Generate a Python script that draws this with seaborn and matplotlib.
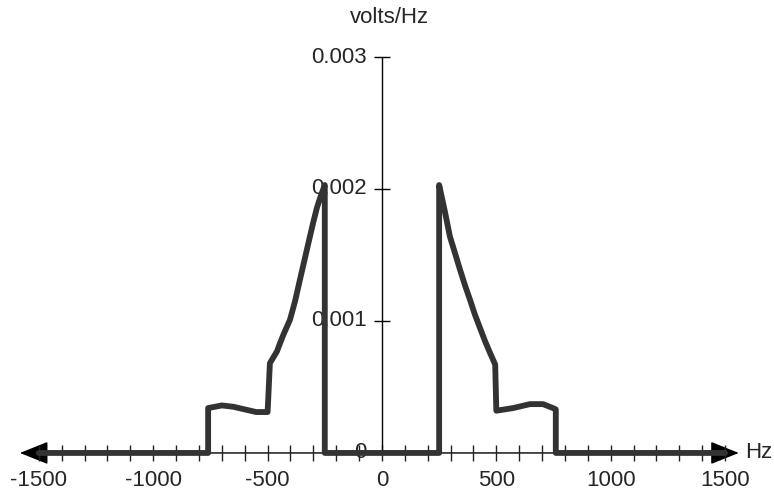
import matplotlib
matplotlib.use("Agg")
import matplotlib.pyplot as plt
import seaborn as sns
import pandas as pd

# ---- data ----
freq_hz = [-1500, -760, -760, -700, -650, -600, -550, -500, -490, -459, -446, -430,
           -402, -380, -359, -335, -315, -300, -284, -267, -250, -250,
           250, 250, 275, 297, 320, 341, 363, 385, 406, 428, 450, 472, 495,
           500, 573, 647, 704, 748, 760, 760, 1500]
volts_per_hz = [0, 0, 0.00034, 0.00036, 0.00035, 0.00033, 0.00031, 0.00031, 0.00068,
                0.00077, 0.00083, 0.00090, 0.00101, 0.00115, 0.00131, 0.00149,
                0.00164, 0.00175, 0.00186, 0.00195, 0.00203, 0,
                0, 0.00203, 0.00183, 0.00164, 0.00151, 0.00139, 0.00127, 0.00116,
                0.00105, 0.00095, 0.00085, 0.00076, 0.00067,
                0.00032, 0.00034, 0.00037, 0.00037, 0.00034, 0.00033, 0, 0]
x_tick_values = [-1500, -1000, -500, 0, 500, 1000, 1500]
x_tick_labels = ["-1500", "-1000", "-500", "0", "500", "1000", "1500"]
y_tick_values = [0, 0.001, 0.002, 0.003]
y_tick_labels = ["0", "0.001", "0.002", "0.003"]
x_minor_ticks = list(range(-1500, 1501, 100))
y_axis_title = "volts/Hz"
x_axis_title = "Hz"

df = pd.DataFrame({"order": range(len(freq_hz)), "freq": freq_hz, "v": volts_per_hz})

sns.set_style("white")
plt.rcParams["font.family"] = ["Liberation Sans", "DejaVu Sans"]

fig = plt.figure(figsize=(7.74, 4.94), dpi=100)
ax = fig.add_axes([0, 0, 1, 1])
XL = (-1670, 1714)
YL = (-0.000311, 0.003432)

FS = 16

# x axis with arrowheads
ax.annotate("", xy=(1560, 0), xytext=(-1583, 0),
            arrowprops=dict(arrowstyle="<|-|>,head_length=0.75,head_width=0.3",
                            mutation_scale=24, lw=1.0,
                            color="black", shrinkA=0, shrinkB=0), zorder=2)
ax.plot(x_minor_ticks, [0] * len(x_minor_ticks), ls="none", marker="|",
        markersize=11, mew=1.0, color="#222222", zorder=2)

# y axis
ax.plot([0, 0], [0, 0.003], color="black", lw=1.0, zorder=2)
ax.plot([0] * 3, y_tick_values[1:], ls="none", marker="_", markersize=11,
        mew=1.0, color="black", zorder=2)

# tick labels
for v, lab in zip(x_tick_values, x_tick_labels):
    ax.text(v, -0.000205, lab, ha="center", va="center", fontsize=FS)
for v, lab in zip(y_tick_values, y_tick_labels):
    ax.text(-68, v, lab, ha="right", va="center", fontsize=FS, zorder=3)

ax.text(35, 0.003303, y_axis_title, ha="center", va="center", fontsize=FS)
ax.text(1587, 0, x_axis_title, ha="left", va="center", fontsize=FS)

# the spectrum curve
sns.lineplot(data=df, x="freq", y="v", sort=False, estimator=None, ax=ax,
             color="#333333", lw=4.2, zorder=4)
ax.axis("off")
ax.set_xlim(*XL)
ax.set_ylim(*YL)

fig.savefig("out.png", dpi=100)
